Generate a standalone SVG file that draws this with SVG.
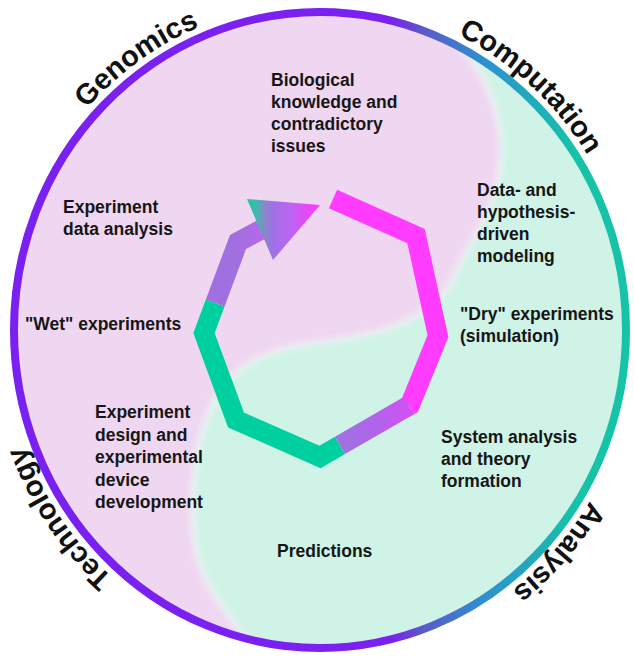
<svg xmlns="http://www.w3.org/2000/svg" width="634" height="657" viewBox="0 0 634 657">
  <defs>
    <style>
      .lbl { font-family: "Liberation Sans", Arial, Helvetica, sans-serif; font-weight: bold; font-size: 17.5px; fill: #161616; }
      .ring { font-family: "Liberation Sans", Arial, Helvetica, sans-serif; font-weight: bold; font-size: 29px; fill: #111; }
      .seg { fill: none; stroke-width: 20; stroke-linejoin: miter; stroke-linecap: butt; stroke-miterlimit: 6; }
    </style>
    <clipPath id="inside">
      <ellipse cx="320" cy="330" rx="303" ry="315"/>
    </clipPath>
    <filter id="soft" x="-10%" y="-10%" width="120%" height="120%">
      <feGaussianBlur stdDeviation="3"/>
    </filter>
    <linearGradient id="ringGrad" gradientUnits="userSpaceOnUse" x1="390" y1="0" x2="575" y2="0">
      <stop offset="0" stop-color="#7a20f0"/>
      <stop offset="0.18" stop-color="#5a5ac8"/>
      <stop offset="0.5" stop-color="#2f8fd0"/>
      <stop offset="1" stop-color="#16c2a8"/>
    </linearGradient>
    <linearGradient id="arrowGrad" gradientUnits="userSpaceOnUse" x1="247" y1="0" x2="320" y2="0">
      <stop offset="0" stop-color="#1ec8a0"/>
      <stop offset="0.14" stop-color="#40b8b0"/>
      <stop offset="0.24" stop-color="#8888c8"/>
      <stop offset="0.36" stop-color="#a070e8"/>
      <stop offset="0.6" stop-color="#bc66f2"/>
      <stop offset="0.8" stop-color="#e24af8"/>
      <stop offset="1" stop-color="#ff3cff"/>
    </linearGradient>
    <linearGradient id="shaftGrad" gradientUnits="userSpaceOnUse" x1="236" y1="0" x2="275" y2="0">
      <stop offset="0" stop-color="#a070e0"/>
      <stop offset="1" stop-color="#c462f2"/>
    </linearGradient>
    <linearGradient id="lrGrad" gradientUnits="userSpaceOnUse" x1="409" y1="0" x2="340" y2="0">
      <stop offset="0" stop-color="#d052f4"/>
      <stop offset="0.5" stop-color="#b064ea"/>
      <stop offset="1" stop-color="#a072e0"/>
    </linearGradient>
    <path id="outerPath" d="M4,330 A316,328 0 1 1 636,330 A316,328 0 1 1 4,330"/>
  </defs>

  <rect width="634" height="657" fill="#ffffff"/>

  <!-- background regions -->
  <g id="background">
    <ellipse cx="320" cy="330" rx="306" ry="318" fill="#efd6f1"/>
    <g clip-path="url(#inside)">
      <path filter="url(#soft)" fill="#cff3e6" d="M390,-5 C455,22 503,85 501,155 C500,205 470,240 455,275 C440,310 400,332 330,341 C275,346 232,362 212,405 C192,450 186,520 200,565 C214,605 245,635 268,665 L645,665 L645,-5 Z"/>
      <path filter="url(#soft)" fill="none" stroke="#ffffff" stroke-opacity="0.35" stroke-width="7" d="M390,-5 C455,22 503,85 501,155 C500,205 470,240 455,275 C440,310 400,332 330,341 C275,346 232,362 212,405 C192,450 186,520 200,565 C214,605 245,635 268,665"/>
    </g>
    <ellipse cx="320" cy="330" rx="306" ry="318" fill="none" stroke="url(#ringGrad)" stroke-width="8"/>
  </g>

  <!-- ring labels -->
  <g id="ring-labels">
    <text class="ring" text-anchor="middle"><textPath href="#outerPath" startOffset="15.4%">Genomics</textPath></text>
    <text class="ring" text-anchor="middle"><textPath href="#outerPath" startOffset="36.5%">Computation</textPath></text>
    <text class="ring" text-anchor="middle"><textPath href="#outerPath" startOffset="61.8%">Analysis</textPath></text>
    <text class="ring" text-anchor="middle"><textPath href="#outerPath" startOffset="90.2%">Technology</textPath></text>
  </g>

  <!-- cycle (connectors) -->
  <g id="connectors">
    <polyline class="seg" stroke="#00d0a0" points="340,445.4 320,457 236,420 204,333 215.2,303"/>
    <polyline class="seg" stroke="url(#shaftGrad)" points="215.2,303 238,242 266,227"/>
    <polygon points="247,199 320,205 273,260" fill="url(#arrowGrad)"/>
    <polyline class="seg" stroke="#ff3cff" points="333,199 416,236 438,336 410,405 409.1,405.5"/>
    <polyline class="seg" stroke="url(#lrGrad)" points="409.1,405.5 340,445.4"/>
  </g>

  <!-- nodes -->
  <g id="node-biological">
    <text class="lbl" x="271" y="86">Biological</text>
    <text class="lbl" x="271" y="108">knowledge and</text>
    <text class="lbl" x="271" y="130">contradictory</text>
    <text class="lbl" x="271" y="152">issues</text>
  </g>
  <g id="node-modeling">
    <text class="lbl" x="477" y="196">Data- and</text>
    <text class="lbl" x="477" y="218">hypothesis-</text>
    <text class="lbl" x="477" y="240">driven</text>
    <text class="lbl" x="477" y="262">modeling</text>
  </g>
  <g id="node-dry">
    <text class="lbl" x="460" y="320">"Dry" experiments</text>
    <text class="lbl" x="460" y="342">(simulation)</text>
  </g>
  <g id="node-system">
    <text class="lbl" x="441" y="443">System analysis</text>
    <text class="lbl" x="441" y="465">and theory</text>
    <text class="lbl" x="441" y="487">formation</text>
  </g>
  <g id="node-predictions">
    <text class="lbl" x="277" y="557">Predictions</text>
  </g>
  <g id="node-design">
    <text class="lbl" x="95" y="418">Experiment</text>
    <text class="lbl" x="95" y="441">design and</text>
    <text class="lbl" x="95" y="463">experimental</text>
    <text class="lbl" x="95" y="486">device</text>
    <text class="lbl" x="95" y="508">development</text>
  </g>
  <g id="node-wet">
    <text class="lbl" x="25" y="330">"Wet" experiments</text>
  </g>
  <g id="node-data-analysis">
    <text class="lbl" x="63" y="213">Experiment</text>
    <text class="lbl" x="63" y="235">data analysis</text>
  </g>
</svg>
